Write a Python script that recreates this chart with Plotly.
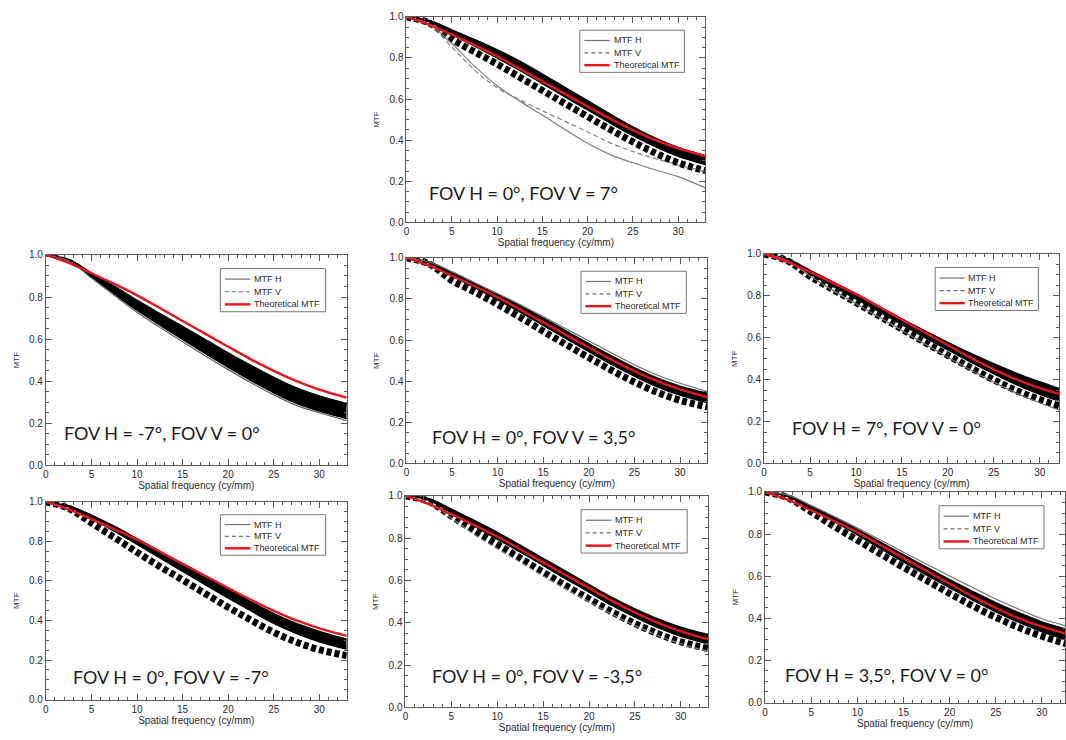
import plotly.graph_objects as go

# Spatial frequency sample points (cy/mm)
FREQ = [0, 2.5, 5, 7.5, 10, 12.5, 15, 17.5, 20, 22.5, 25, 27.5, 30, 33]

# Theoretical (design) MTF, shared by all field points
THEORETICAL = [1.0, 0.962, 0.913, 0.862, 0.808, 0.748, 0.686, 0.625, 0.564,
               0.504, 0.449, 0.400, 0.360, 0.322]

# FOV H = 0°, FOV V = 7°
V7_UPPER = [1.0, 0.982, 0.937, 0.89, 0.84, 0.785, 0.722, 0.657, 0.592, 0.527, 0.465, 0.41, 0.365, 0.325]
V7_CORE = [1.0, 0.976, 0.915, 0.858, 0.8, 0.74, 0.675, 0.61, 0.547, 0.483, 0.422, 0.368, 0.322, 0.282]
V7_DASH = [1.0, 0.97, 0.892, 0.83, 0.77, 0.706, 0.642, 0.578, 0.515, 0.452, 0.392, 0.337, 0.29, 0.252]
V7_H_OUT = [1.0, 0.965, 0.87, 0.76, 0.665, 0.59, 0.522, 0.452, 0.385, 0.33, 0.29, 0.255, 0.223, 0.168]
V7_V_OUT = [1.0, 0.96, 0.853, 0.742, 0.655, 0.597, 0.543, 0.492, 0.44, 0.387, 0.345, 0.31, 0.28, 0.247]

# FOV H = -7°, FOV V = 0°
HM7_UPPER = [1.0, 0.978, 0.915, 0.852, 0.785, 0.722, 0.66, 0.598, 0.535, 0.475, 0.418, 0.368, 0.33, 0.295]
HM7_CORE = [1.0, 0.972, 0.895, 0.815, 0.737, 0.667, 0.598, 0.531, 0.466, 0.403, 0.345, 0.295, 0.258, 0.222]
HM7_DASH = [1.0, 0.975, 0.905, 0.832, 0.758, 0.692, 0.628, 0.563, 0.5, 0.44, 0.385, 0.338, 0.31, 0.285]
HM7_H_OUT = [1.0, 0.972, 0.89, 0.808, 0.728, 0.656, 0.587, 0.52, 0.455, 0.393, 0.335, 0.285, 0.25, 0.213]

# FOV H = 0°, FOV V = 3,5°
V35_UPPER = [1.0, 0.98, 0.93, 0.876, 0.822, 0.767, 0.707, 0.645, 0.583, 0.523, 0.466, 0.416, 0.376, 0.342]
V35_CORE = [1.0, 0.975, 0.912, 0.855, 0.796, 0.735, 0.671, 0.607, 0.544, 0.482, 0.425, 0.373, 0.332, 0.295]
V35_DASH = [1.0, 0.97, 0.89, 0.834, 0.774, 0.71, 0.643, 0.578, 0.515, 0.453, 0.396, 0.346, 0.307, 0.275]
V35_H_OUT = [1.0, 0.98, 0.932, 0.879, 0.826, 0.772, 0.714, 0.655, 0.596, 0.537, 0.48, 0.43, 0.39, 0.35]

# FOV H = 7°, FOV V = 0°
H7_UPPER = [1.0, 0.977, 0.922, 0.867, 0.81, 0.75, 0.69, 0.633, 0.578, 0.525, 0.476, 0.43, 0.39, 0.344]
H7_CORE = [1.0, 0.972, 0.905, 0.845, 0.785, 0.724, 0.662, 0.601, 0.542, 0.483, 0.427, 0.375, 0.33, 0.285]
H7_DASH = [1.0, 0.968, 0.893, 0.83, 0.768, 0.705, 0.641, 0.578, 0.516, 0.456, 0.399, 0.347, 0.305, 0.262]
H7_H_OUT = [1.0, 0.97, 0.895, 0.826, 0.762, 0.699, 0.634, 0.57, 0.507, 0.446, 0.388, 0.335, 0.29, 0.24]

# FOV H = 0°, FOV V = -7°
VM7_UPPER = [1.0, 0.98, 0.933, 0.877, 0.814, 0.75, 0.686, 0.622, 0.558, 0.495, 0.435, 0.385, 0.345, 0.305]
VM7_CORE = [1.0, 0.975, 0.915, 0.852, 0.785, 0.716, 0.648, 0.58, 0.513, 0.448, 0.385, 0.333, 0.292, 0.255]
VM7_DASH = [1.0, 0.967, 0.893, 0.82, 0.745, 0.673, 0.605, 0.535, 0.467, 0.402, 0.34, 0.29, 0.252, 0.222]

# FOV H = 0°, FOV V = -3,5°
VM35_UPPER = [1.0, 0.988, 0.938, 0.884, 0.828, 0.767, 0.705, 0.643, 0.581, 0.52, 0.466, 0.419, 0.38, 0.345]
VM35_CORE = [1.0, 0.98, 0.92, 0.857, 0.796, 0.735, 0.671, 0.607, 0.545, 0.482, 0.427, 0.377, 0.336, 0.3]
VM35_DASH = [1.0, 0.975, 0.905, 0.836, 0.771, 0.706, 0.639, 0.575, 0.513, 0.452, 0.397, 0.349, 0.31, 0.278]
VM35_V_OUT = [1.0, 0.97, 0.895, 0.818, 0.75, 0.687, 0.622, 0.56, 0.5, 0.441, 0.387, 0.34, 0.301, 0.265]

# FOV H = 3,5°, FOV V = 0°
H35_UPPER = [1.0, 0.984, 0.933, 0.879, 0.822, 0.762, 0.702, 0.643, 0.584, 0.528, 0.475, 0.427, 0.383, 0.345]
H35_CORE = [1.0, 0.978, 0.918, 0.859, 0.796, 0.731, 0.667, 0.605, 0.545, 0.486, 0.431, 0.381, 0.336, 0.295]
H35_DASH = [1.0, 0.972, 0.905, 0.836, 0.771, 0.706, 0.642, 0.58, 0.518, 0.459, 0.405, 0.356, 0.315, 0.275]
H35_H_OUT = [1.0, 0.985, 0.936, 0.883, 0.829, 0.772, 0.714, 0.657, 0.601, 0.546, 0.492, 0.443, 0.398, 0.36]

W, H = 1066, 740

panels = [
    dict(label="FOV H = 0°, FOV V = 7°", px=(405, 705), py=(11, 220), xmax=33,
         upper=V7_UPPER, core=V7_CORE, dash=V7_DASH, h_out=V7_H_OUT, v_out=V7_V_OUT,
         out_color="#808080", lab=(0.067, 0.145)),
    dict(label="FOV H = -7°, FOV V = 0°", px=(43, 345), py=(253, 467), xmax=33,
         upper=HM7_UPPER, core=HM7_CORE, dash=HM7_DASH, h_out=HM7_H_OUT, v_out=None,
         out_color="#606060", lab=(0.053, 0.156), dash_w=3),
    dict(label="FOV H = 0°, FOV V = 3,5°", px=(405, 707), py=(256, 465), xmax=33,
         upper=V35_UPPER, core=V35_CORE, dash=V35_DASH, h_out=V35_H_OUT, v_out=None,
         out_color="#707070", lab=(0.079, 0.13)),
    dict(label="FOV H = 7°, FOV V = 0°", px=(764, 1060), py=(252, 465), xmax=32.1,
         upper=H7_UPPER, core=H7_CORE, dash=H7_DASH, h_out=H7_H_OUT, v_out=None,
         out_color="#707070", lab=(0.088, 0.17)),
    dict(label="FOV H = 0°, FOV V = -7°", px=(43, 345), py=(504, 705), xmax=33,
         upper=VM7_UPPER, core=VM7_CORE, dash=VM7_DASH, h_out=None, v_out=None,
         out_color="#707070", lab=(0.083, 0.116)),
    dict(label="FOV H = 0°, FOV V = -3,5°", px=(404, 708), py=(498, 713), xmax=33,
         upper=VM35_UPPER, core=VM35_CORE, dash=VM35_DASH, h_out=None, v_out=VM35_V_OUT,
         out_color="#808080", lab=(0.082, 0.147)),
    dict(label="FOV H = 3,5°, FOV V = 0°", px=(765, 1066), py=(494, 708), xmax=32.5,
         upper=H35_UPPER, core=H35_CORE, dash=H35_DASH, h_out=H35_H_OUT, v_out=None,
         out_color="#707070", lab=(0.061, 0.132)),
]

AX_COLOR = "#5a5a5a"
SANS = "Liberation Sans, Arial, sans-serif"
TICK_FONT = dict(family=SANS, size=10, color="#2a2a2a")
N = len(panels)

fig = go.Figure()
layout = dict(width=W, height=H, margin=dict(l=0, r=0, t=0, b=0),
              paper_bgcolor="white", plot_bgcolor="white", showlegend=False)
shapes, annotations = [], []


def axis_ids(n):
    return ("x" if n == 1 else f"x{n}", "y" if n == 1 else f"y{n}",
            "xaxis" if n == 1 else f"xaxis{n}", "yaxis" if n == 1 else f"yaxis{n}")


for i, p in enumerate(panels, start=1):
    xa, ya, xkey, ykey = axis_ids(i)
    # mirrored axes on top / right carry the opposite-side ticks
    xo, yo, xokey, yokey = axis_ids(i + N)

    common = dict(xaxis=xa, yaxis=ya, hoverinfo="skip", showlegend=False)

    # black band of measured MTF curves
    fig.add_trace(go.Scatter(x=FREQ, y=p["upper"], mode="lines",
                             line=dict(color="black", width=1.4, shape="spline"), **common))
    fig.add_trace(go.Scatter(x=FREQ, y=p["core"], mode="lines", fill="tonexty",
                             fillcolor="black",
                             line=dict(color="black", width=1.4, shape="spline"), **common))
    # stacked dashed MTF V curves
    fig.add_trace(go.Scatter(x=FREQ, y=p["dash"], mode="lines",
                             line=dict(color="black", width=p.get("dash_w", 7),
                                       dash="5px,3px", shape="spline"), **common))
    if p["h_out"] is not None:
        fig.add_trace(go.Scatter(x=FREQ, y=p["h_out"], mode="lines",
                                 line=dict(color=p["out_color"], width=1.2, shape="spline"),
                                 **common))
    if p["v_out"] is not None:
        fig.add_trace(go.Scatter(x=FREQ, y=p["v_out"], mode="lines",
                                 line=dict(color=p["out_color"], width=1.2, dash="5px,3px",
                                           shape="spline"), **common))
    # theoretical MTF
    fig.add_trace(go.Scatter(x=FREQ, y=THEORETICAL, mode="lines",
                             line=dict(color="#e8141b", width=2.4, shape="spline"), **common))

    # empty traces so the mirrored axes get drawn
    fig.add_trace(go.Scatter(x=[None], y=[None], xaxis=xo, yaxis=ya, showlegend=False,
                             hoverinfo="skip"))
    fig.add_trace(go.Scatter(x=[None], y=[None], xaxis=xa, yaxis=yo, showlegend=False,
                             hoverinfo="skip"))

    x0, x1 = p["px"]
    y0, y1 = p["py"]
    xdom = [x0 / W, x1 / W]
    ydom = [1 - y1 / H, 1 - y0 / H]
    xticks = dict(range=[0, p["xmax"]], ticks="inside", ticklen=6, tickcolor=AX_COLOR,
                  tick0=0, dtick=5,
                  minor=dict(dtick=1, ticks="inside", ticklen=3, tickcolor=AX_COLOR),
                  showgrid=False, zeroline=False)
    yticks = dict(range=[0, 1], ticks="inside", ticklen=6, tickcolor=AX_COLOR,
                  tick0=0, dtick=0.2,
                  minor=dict(dtick=0.05, ticks="inside", ticklen=3, tickcolor=AX_COLOR),
                  showgrid=False, zeroline=False)

    layout[xkey] = dict(
        domain=xdom, anchor=ya, showline=True, linecolor=AX_COLOR, linewidth=1, mirror=True,
        tickfont=TICK_FONT,
        title=dict(text="Spatial frequency (cy/mm)", standoff=1,
                   font=dict(family=SANS, size=10, color="#2a2a2a")),
        **xticks,
    )
    layout[ykey] = dict(
        domain=ydom, anchor=xa, showline=True, linecolor=AX_COLOR, linewidth=1, mirror=True,
        tickformat=".1f", tickfont=TICK_FONT,
        title=dict(text="MTF", standoff=8,
                   font=dict(family=SANS, size=8, color="#2a2a2a")),
        **yticks,
    )
    layout[xokey] = dict(domain=xdom, anchor=ya, overlaying=xa, side="top",
                         showticklabels=False, showline=False, **xticks)
    layout[yokey] = dict(domain=ydom, anchor=xa, overlaying=ya, side="right",
                         showticklabels=False, showline=False, **yticks)

    xd, yd = f"{xa} domain", f"{ya} domain"
    # legend box
    shapes.append(dict(type="rect", xref=xd, yref=yd, x0=0.58, x1=0.93, y0=0.73, y1=0.935,
                       line=dict(color="#777777", width=1), fillcolor="white", layer="above"))
    legend_rows = [
        ("MTF H", dict(color="#707070", width=1.2)),
        ("MTF V", dict(color="#707070", width=1.2, dash="4px,3px")),
        ("Theoretical MTF", dict(color="#e8141b", width=2.4)),
    ]
    for k, (txt, ln) in enumerate(legend_rows):
        yy = 0.885 - k * 0.06
        shapes.append(dict(type="line", xref=xd, yref=yd, x0=0.595, x1=0.68, y0=yy, y1=yy,
                           line=ln, layer="above"))
        annotations.append(dict(text=txt, xref=xd, yref=yd, x=0.686, y=yy,
                                xanchor="left", yanchor="middle", showarrow=False,
                                font=dict(family=SANS, size=9, color="#2a2a2a")))
    # field-point label
    annotations.append(dict(text=p["label"], xref=xd, yref=yd, x=p["lab"][0], y=p["lab"][1],
                            xanchor="left", yanchor="middle", showarrow=False,
                            font=dict(family="Lato, Open Sans, sans-serif", size=18,
                                      color="#1a1a1a")))

layout["shapes"] = shapes
layout["annotations"] = annotations
fig.update_layout(**layout)
fig.write_html("out.html")
